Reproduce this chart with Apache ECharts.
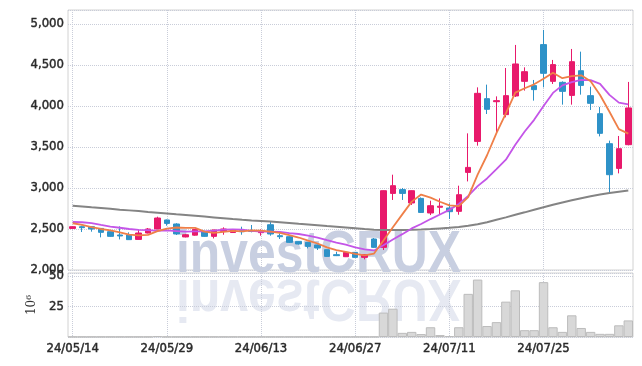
<!DOCTYPE html>
<html><head><meta charset="utf-8">
<script src="https://cdn.jsdelivr.net/npm/echarts@6/dist/echarts.min.js"></script>
<style>html,body{margin:0;padding:0;background:#fff}#c{width:642px;height:366px}</style>
</head><body><div id="c"></div>
<script>
const dates = ['24/05/14','24/05/16','24/05/17','24/05/20','24/05/21','24/05/22','24/05/23','24/05/24','24/05/27','24/05/28',
'24/05/29','24/05/30','24/05/31','24/06/03','24/06/04','24/06/05','24/06/07','24/06/10','24/06/11','24/06/12',
'24/06/13','24/06/14','24/06/17','24/06/18','24/06/19','24/06/20','24/06/21','24/06/24','24/06/25','24/06/26',
'24/06/27','24/06/28','24/07/01','24/07/02','24/07/03','24/07/04','24/07/05','24/07/08','24/07/09','24/07/10',
'24/07/11','24/07/12','24/07/15','24/07/16','24/07/17','24/07/18','24/07/19','24/07/22','24/07/23','24/07/24',
'24/07/25','24/07/26','24/07/29','24/07/30','24/07/31','24/08/01','24/08/02','24/08/05','24/08/06','24/08/07'];

const opens = [2507,2528,2528,2507,2467,2427,2427,2373,2451,2500,
2610,2561,2403,2425,2471,2410,2471,2457,2479,2479,
2455,2552,2418,2406,2349,2337,2305,2248,2187,2162,
2215,2154,2378,2276,2934,2980,2817,2873,2695,2765,
2756,2715,3190,3568,4089,4052,3894,4122,4300,4248,
4748,4300,4288,4129,4430,4126,3906,3540,3239,3528];
const closes = [2528,2516,2500,2459,2410,2415,2370,2451,2500,2634,
2568,2439,2430,2495,2410,2488,2500,2492,2467,2471,
2479,2439,2406,2337,2317,2288,2268,2166,2175,2215,
2154,2187,2276,2967,3028,2934,2967,2702,2784,2778,
2711,2918,3251,4154,3959,4065,4126,4512,4418,4199,
4398,4504,4178,4540,4251,4032,3666,3162,3479,3976];
const lows = [2503,2463,2467,2398,2405,2373,2368,2370,2446,2495,
2540,2427,2398,2418,2405,2385,2430,2452,2430,2459,
2418,2418,2378,2330,2310,2263,2244,2160,2170,2158,
2150,2130,2270,2244,2854,2854,2793,2695,2670,2683,
2622,2674,3080,3516,3902,3659,3861,4110,4187,4065,
4227,4268,4016,4016,4138,3951,3629,2927,3178,3520];
const highs = [2532,2540,2530,2510,2467,2532,2459,2491,2512,2650,
2615,2570,2440,2500,2478,2490,2520,2500,2528,2549,
2495,2593,2446,2410,2352,2340,2310,2250,2223,2220,
2218,2190,2390,2970,3162,3000,2970,2885,2845,2873,
2812,3028,3666,4227,4260,4117,4463,4744,4471,4317,
4927,4561,4300,4695,4662,4235,3988,3577,3634,4293];

const ma5 = [2570,2550,2522,2500,2483,2460,2431,2421,2429,2474,
2505,2518,2514,2513,2468,2452,2465,2477,2471,2483,
2481,2469,2452,2426,2396,2357,2323,2275,2243,2222,
2196,2179,2201,2360,2522,2678,2834,2920,2883,2832,
2788,2778,2888,3162,3399,3669,3911,4163,4216,4264,
4331,4406,4339,4364,4374,4301,4133,3930,3718,3663];
const ma10 = [2585,2582,2572,2550,2530,2515,2500,2490,2485,2478,
2482,2475,2468,2471,2471,2479,2492,2495,2492,2476,
2467,2467,2465,2449,2439,2419,2396,2364,2335,2309,
2277,2251,2238,2301,2372,2437,2507,2561,2621,2677,
2733,2806,2904,3022,3116,3229,3345,3526,3689,3831,
4000,4159,4251,4290,4319,4316,4270,4135,4041,4019];
const maLong = [2784,2775,2765,2756,2746,2736,2727,2718,2708,2699,
2690,2680,2671,2661,2651,2641,2631,2621,2612,2604,
2598,2591,2582,2573,2563,2554,2545,2535,2526,2517,
2508,2499,2492,2489,2488,2489,2491,2495,2500,2507,
2514,2525,2540,2558,2582,2612,2642,2673,2703,2734,
2765,2795,2823,2850,2876,2900,2920,2938,2954,2970];

const volumes = [0.2,0.2,0.2,0.2,0.2,0.2,0.2,0.2,0.2,0.8,
0.2,0.2,0.2,0.2,0.2,0.2,0.2,0.2,0.2,0.2,
0.2,0.2,0.2,0.2,0.2,0.2,0.2,0.2,0.2,0.2,
0.2,0.2,0.2,20.0,23.2,3.4,4.2,2.4,8.0,1.6,
0.8,8.0,35.4,47.1,9.0,12.2,29.0,38.3,5.6,5.6,
45.0,8.0,4.2,17.8,7.4,4.2,2.6,2.6,9.6,13.6];

const priceTicks = [2000,2500,3000,3500,4000,4500,5000];
const volTicks = [25,50];

const UP = '#e8196b', DOWN = '#2e92c8';
const labelFont = {fontFamily:'DejaVu Sans Condensed', fontSize:13, color:'#2a2a2a',
  textBorderColor:'#2a2a2a', textBorderWidth:0.45};
const splitStyle = {color:'#c9cdd9', type:'dotted', width:1};

const chart = echarts.init(document.getElementById('c'), null, {renderer:'canvas'});
chart.setOption({
  animation:false,
  backgroundColor:'#fff',
  grid:[
    {left:68, right:9, top:10, height:260, show:true, borderColor:'#d2d2d2', borderWidth:1},
    {left:68, right:9, top:273, height:64, show:true, borderColor:'#d2d2d2', borderWidth:1}
  ],
  xAxis:[
    {type:'category', gridIndex:0, data:dates, boundaryGap:true,
     axisLine:{show:false}, axisTick:{show:false, alignWithLabel:true}, axisLabel:{show:false, interval:9},
     splitLine:{show:true, interval:9, alignWithLabel:true, lineStyle:splitStyle}},
    {type:'category', gridIndex:1, data:dates, boundaryGap:true,
     axisLine:{show:false}, axisTick:{show:false, alignWithLabel:true},
     axisLabel:Object.assign({interval:9, margin:5}, labelFont),
     splitLine:{show:true, interval:9, alignWithLabel:true, lineStyle:splitStyle}}
  ],
  yAxis:[
    {type:'value', gridIndex:0, min:priceTicks[0], max:5170, interval:500, position:'left',
     axisLine:{show:false}, axisTick:{show:false},
     axisLabel:Object.assign({margin:4, showMaxLabel:false,
       formatter:v=> priceTicks.indexOf(v)>=0 ? v.toLocaleString('en-US') : ''}, labelFont),
     splitLine:{show:true, lineStyle:splitStyle}},
    {type:'value', gridIndex:1, min:0, max:52.5, interval:25, position:'left',
     name:'10\u2076', nameLocation:'middle', nameRotate:90, nameGap:30,
     nameTextStyle:{fontFamily:'DejaVu Serif', fontSize:12, color:'#333'},
     axisLine:{show:false}, axisTick:{show:false},
     axisLabel:Object.assign({margin:4, showMaxLabel:false,
       formatter:v=> volTicks.indexOf(v)>=0 ? String(v) : ''}, labelFont),
     splitLine:{show:true, lineStyle:splitStyle}}
  ],
  graphic:[
    {type:'text', x:176, y:276, scaleX:0.83, z:0, silent:true,
     style:{text:'investCRUX', x:0, y:-21, font:'bold 60px "Liberation Sans"', fill:'#c8cfe1',
            textAlign:'left', textVerticalAlign:'middle'}},
    {type:'text', x:176, y:276, scaleX:0.83, scaleY:-1, z:0, silent:true,
     style:{text:'investCRUX', x:0, y:-21, font:'bold 60px "Liberation Sans"', fill:'#e6e9f2',
            textAlign:'left', textVerticalAlign:'middle'}}
  ],
  series:[
    {type:'candlestick', xAxisIndex:0, yAxisIndex:0, barWidth:6,
     data:dates.map((d,i)=>[opens[i], closes[i], lows[i], highs[i]]),
     itemStyle:{color:UP, color0:DOWN, borderColor:UP, borderColor0:DOWN, borderWidth:1}},
    {type:'line', xAxisIndex:0, yAxisIndex:0, data:maLong, showSymbol:false, symbol:'none',
     lineStyle:{color:'#848484', width:2}, z:3},
    {type:'line', xAxisIndex:0, yAxisIndex:0, data:ma10, showSymbol:false, symbol:'none',
     lineStyle:{color:'#c455e8', width:1.8}, z:4},
    {type:'line', xAxisIndex:0, yAxisIndex:0, data:ma5, showSymbol:false, symbol:'none',
     lineStyle:{color:'#ef7f48', width:1.8}, z:5},
    {type:'bar', xAxisIndex:1, yAxisIndex:1, data:volumes, barCategoryGap:'0%',
     itemStyle:{color:'#d8d8d8', borderColor:'#bcbcbc', borderWidth:1}}
  ]
});
</script>
</body></html>
